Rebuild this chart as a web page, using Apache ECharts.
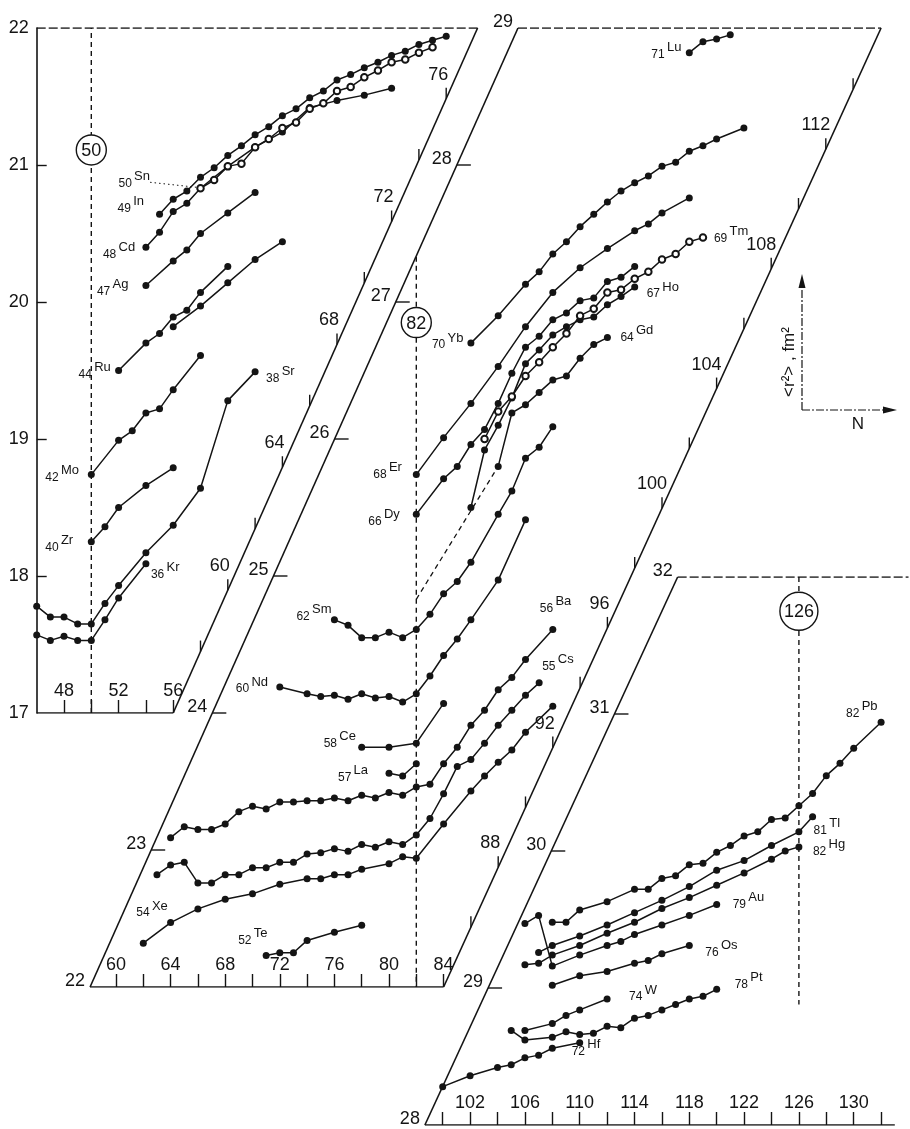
<!DOCTYPE html>
<html><head><meta charset="utf-8">
<script src="https://cdn.jsdelivr.net/npm/echarts@6/dist/echarts.min.js"></script>
<style>html,body{margin:0;padding:0;background:#fff}#c{width:910px;height:1129px}</style>
</head><body><div id="c"></div>
<script>
// ================= DATA (N, <r^2> in fm^2) =================
// Panel 1
const Kr = [[46,17.57],[47,17.53],[48,17.56],[49,17.53],[50,17.53],[51,17.68],[52,17.84],[54,18.09]];
const Sr = [[46,17.78],[47,17.70],[48,17.70],[49,17.65],[50,17.65],[51,17.80],[52,17.93],[54,18.17],[56,18.37],[58,18.64],[60,19.28],[62,19.49]];
const Zr = [[50,18.25],[51,18.36],[52,18.50],[54,18.66],[56,18.79]];
const Mo = [[50,18.74],[52,18.99],[53,19.06],[54,19.19],[55,19.22],[56,19.36],[58,19.61]];
const Ru = [[52,19.50],[54,19.70],[55,19.77],[56,19.89],[57,19.94],[58,20.07],[60,20.26]];
const Pd = [[56,19.82],[58,19.97],[60,20.14],[62,20.31],[64,20.44]];
const Ag = [[54,20.12],[56,20.30],[57,20.38],[58,20.50],[60,20.65],[62,20.80]];
const Cd = [[54,20.40],[55,20.51],[56,20.66],[57,20.72],[58,20.83],[60,20.99],[62,21.13],[64,21.24],[66,21.42],[68,21.47],[70,21.51],[72,21.56]];
const In = [[55,20.64],[56,20.75],[57,20.81],[58,20.91],[59,20.98],[60,21.07],[61,21.14],[62,21.22],[63,21.28],[64,21.36],[65,21.41],[66,21.49],[67,21.54],[68,21.62],[69,21.66],[70,21.71],[71,21.75],[72,21.80],[73,21.83],[74,21.88],[75,21.91],[76,21.94]];
const Sn = [[58,20.83],[59,20.89],[60,20.99],[61,21.01],[62,21.13],[63,21.19],[64,21.27],[65,21.31],[66,21.41],[67,21.45],[68,21.54],[69,21.57],[70,21.64],[71,21.69],[72,21.75],[73,21.77],[74,21.82],[75,21.86]];
// Panel 2
const Te = [[71,22.23],[72,22.25],[73,22.25],[74,22.34],[76,22.40],[78,22.45]];
const Xe = [[62,22.32],[64,22.47],[66,22.57],[68,22.64],[70,22.68],[72,22.75],[74,22.79],[75,22.79],[76,22.82],[77,22.82],[78,22.86],[80,22.90],[81,22.95],[82,22.94],[84,23.19],[86,23.43],[87,23.54],[88,23.64],[89,23.73],[90,23.86],[92,24.05]];
const Cs = [[63,22.82],[64,22.89],[65,22.91],[66,22.76],[67,22.76],[68,22.82],[69,22.82],[70,22.87],[71,22.87],[72,22.91],[73,22.91],[74,22.97],[75,22.98],[76,23.01],[77,22.99],[78,23.04],[79,23.02],[80,23.06],[81,23.04],[82,23.11],[83,23.23],[84,23.41],[85,23.61],[86,23.66],[87,23.78],[88,23.91],[89,24.02],[90,24.13],[91,24.22]];
const Ba = [[64,23.09],[65,23.17],[66,23.15],[67,23.15],[68,23.19],[69,23.28],[70,23.32],[71,23.30],[72,23.35],[73,23.35],[74,23.36],[75,23.36],[76,23.38],[77,23.36],[78,23.40],[79,23.38],[80,23.42],[81,23.40],[82,23.46],[83,23.48],[84,23.63],[85,23.75],[86,23.91],[87,24.02],[88,24.17],[89,24.26],[90,24.39],[92,24.61]];
const La = [[80,23.56],[81,23.54],[82,23.63]];
const Ce = [[78,23.75],[80,23.75],[82,23.78],[84,24.07]];
const Nd = [[72,24.19],[74,24.14],[75,24.12],[76,24.13],[77,24.10],[78,24.14],[79,24.11],[80,24.12],[81,24.08],[82,24.14],[83,24.27],[84,24.42],[85,24.54],[86,24.68],[88,24.97],[90,25.41]];
const Sm = [[76,24.68],[77,24.64],[78,24.55],[79,24.55],[80,24.59],[81,24.55],[82,24.61],[83,24.72],[84,24.87],[85,24.96],[86,25.10],[88,25.45],[89,25.62],[90,25.86],[91,25.94],[92,26.09]];
const GdGap = [[82,24.83],[88,25.80]];
const Gd = [[88,25.80],[89,26.19],[90,26.25],[91,26.34],[92,26.43],[93,26.46],[94,26.59],[95,26.69],[96,26.74]];
const Dy = [[82,25.45],[84,25.71],[85,25.80],[86,25.96],[87,26.07],[88,26.26],[89,26.48],[90,26.67],[91,26.75],[92,26.87],[93,26.92],[94,27.01],[95,27.03],[96,27.15],[97,27.18],[98,27.26]];
const Ho = [[86,25.50],[87,25.92],[88,26.10],[89,26.30],[90,26.55],[91,26.65],[92,26.76],[93,26.82],[94,26.87],[95,26.89],[96,26.98],[97,27.04],[98,27.11]];
const Er = [[82,25.74],[84,26.01],[86,26.26],[88,26.53],[90,26.82],[92,27.07],[94,27.25],[96,27.39],[98,27.52],[99,27.57],[100,27.65],[102,27.76]];
const Tm = [[87,26.00],[88,26.20],[89,26.31],[90,26.46],[91,26.56],[92,26.67],[93,26.77],[94,26.90],[95,26.95],[96,27.07],[97,27.09],[98,27.17],[99,27.22],[100,27.31],[101,27.35],[102,27.44],[103,27.47]];
const Yb = [[86,26.70],[88,26.90],[90,27.13],[91,27.22],[92,27.35],[93,27.44],[94,27.55],[95,27.64],[96,27.73],[97,27.81],[98,27.87],[99,27.92],[100,27.99],[101,28.02],[102,28.10],[103,28.14],[104,28.19],[106,28.27]];
const Lu = [[102,28.82],[103,28.90],[104,28.92],[105,28.95]];
// Panel 3
const Hf = [[100,28.28],[102,28.36],[104,28.42],[105,28.44],[106,28.49],[107,28.51],[108,28.56],[110,28.60]];
const W  = [[106,28.69],[108,28.74],[109,28.80],[110,28.84],[112,28.92]];
const Pt = [[105,28.69],[106,28.62],[108,28.64],[109,28.68],[110,28.66],[111,28.67],[112,28.72],[113,28.71],[114,28.78],[115,28.80],[116,28.84],[117,28.88],[118,28.92],[119,28.94],[120,28.99]];
const Os = [[108,29.02],[110,29.09],[112,29.12],[114,29.18],[115,29.20],[116,29.25],[118,29.31]];
const Au = [[106,29.47],[107,29.53],[108,29.16],[110,29.24],[112,29.31],[113,29.34],[114,29.39],[116,29.46],[118,29.53],[120,29.61]];
const Hg = [[106,29.17],[107,29.18],[108,29.24],[110,29.31],[112,29.40],[114,29.48],[116,29.58],[118,29.66],[120,29.75],[122,29.84],[124,29.94],[125,30.00],[126,30.03]];
const Tl = [[107,29.26],[108,29.31],[110,29.38],[112,29.46],[114,29.55],[116,29.64],[118,29.74],[120,29.86],[122,29.93],[124,30.04],[126,30.14],[127,30.25]];
const Pb = [[108,29.48],[109,29.48],[110,29.57],[112,29.63],[114,29.72],[115,29.72],[116,29.80],[117,29.82],[118,29.90],[119,29.91],[120,29.99],[121,30.04],[122,30.11],[123,30.14],[124,30.23],[125,30.24],[126,30.33],[127,30.42],[128,30.55],[129,30.64],[130,30.75],[132,30.94]];

// ================= AXIS FRAMES / TICKS =================
const P1_BOTTOM = [[46,17],[56,17]], P1_TOP = [[46,22],[78.3,22]], P1_RIGHT = [[56,17],[78.3,22]];
const P2_BOTTOM = [[58.1,22],[84,22]], P2_LEFT = [[58.1,22],[89.45,29]], P2_TOP = [[89.45,29],[116.05,29]], P2_RIGHT = [[84,22],[116.05,29]];
const P3_BOTTOM = [[98.7,28],[133,28]], P3_LEFT = [[98.7,28],[117.15,32]], P3_TOP = [[117.15,32],[134,32]];
const P1_XTICKS = [48,50,52,54,56], P1_XLABELS = [48,52,56];
const P1_YTICKS = [18,19,20,21], P1_YLABELS = [17,18,19,20,21,22];
const P1_SLANT_TICKS = [58,60,62,64,66,68,70,72,74,76], P1_SLANT_LABELS = [60,64,68,72,76];
const P2_XTICKS = [60,62,64,66,68,70,72,74,76,78,80,82,84], P2_XLABELS = [60,64,68,72,76,80,84];
const P2_SLANT_TICKS = [86,88,90,92,94,96,98,100,102,104,106,108,110,112,114], P2_SLANT_LABELS = [88,92,96,100,104,108,112];
const P2_RTICKS = [23,24,25,26,27,28], P2_RLABELS = [22,23,24,25,26,27,28,29];
const P3_XTICKS = [100,102,104,106,108,110,112,114,116,118,120,122,124,126,128,130,132], P3_XLABELS = [102,106,110,114,118,122,126,130];
const P3_RTICKS = [29,30,31], P3_RLABELS = [28,29,30,31,32];
const MAGIC = [[0,50,21.11,'50'],[1,82,26.85,'82'],[2,126,31.75,'126']];
const MAGIC_LINES = [[0,[[50,17],[50,22]]],[1,[[82,27.33],[82,22]]],[2,[[126,32],[126,28.88]]]];

// ================= STYLE =================
const INK = '#141414';
const FONT = '"Liberation Sans", Arial, sans-serif';
const GRIDS = [
  {left:36.7, top:28, width:464.1, height:685},
  {left:88.7, top:28, width:819, height:959},
  {left:415.3, top:577, width:493.2, height:548}
];
const RANGES = [[46,80,17,22],[58,118,22,29],[98,134,28,32]];
// element labels: [panel, data, anchor, Z, symbol, dx(px), dy(px), leader]
const LABELS = [
  [0,Sn,'first','50','Sn',-82,-5,true],[0,In,'first','49','In',-42,-6],[0,Cd,'first','48','Cd',-43,7],
  [0,Ag,'first','47','Ag',-49,6],[0,Ru,'first','44','Ru',-40,4],[0,Mo,'first','42','Mo',-46,3],
  [0,Zr,'first','40','Zr',-46,6],[0,Kr,'last','36','Kr',5,11],[0,Sr,'last','38','Sr',11,7],
  [1,Sm,'first','62','Sm',-38,-3],[1,Nd,'first','60','Nd',-44,2],[1,Ce,'first','58','Ce',-38,-4],
  [1,La,'first','57','La',-51,4],[1,Xe,'first','54','Xe',-7,-30],[1,Te,'first','52','Te',-28,-15],
  [1,Ba,'last','56','Ba',-13,-21],[1,Cs,'last','55','Cs',3,-16],[1,Er,'first','68','Er',-43,0],
  [1,Yb,'first','70','Yb',-39,2],[1,Dy,'first','66','Dy',-48,7],[1,Gd,'last','64','Gd',13,0],
  [1,Ho,'last','67','Ho',12,7],[1,Tm,'last','69','Tm',11,1],[1,Lu,'first','71','Lu',-38,2],
  [2,Hf,'last','72','Hf',-8,9],[2,W,'last','74','W',22,-2],[2,Os,'last','76','Os',16,7],
  [2,Pt,'last','78','Pt',18,-5],[2,Au,'last','79','Au',16,0],[2,Tl,'last','81','Tl',1,14],
  [2,Hg,'last','82','Hg',14,5],[2,Pb,'last','82','Pb',-35,-9]
];
const CHAINS = [
  [0,Kr],[0,Sr],[0,Zr],[0,Mo],[0,Ru],[0,Pd],[0,Ag],[0,Cd],[0,In],[0,Sn,true],
  [1,Te],[1,Xe],[1,Cs],[1,Ba],[1,La],[1,Ce],[1,Nd],[1,Sm],[1,Gd],[1,Dy],[1,Ho],[1,Er],[1,Tm,true],[1,Yb],[1,Lu],
  [2,Hf],[2,W],[2,Pt],[2,Os],[2,Au],[2,Hg],[2,Tl],[2,Pb]
];

// ================= BUILD =================
function edgeAtX(e, n){ return e[0][1] + (n - e[0][0]) * (e[1][1] - e[0][1]) / (e[1][0] - e[0][0]); }
function edgeAtY(e, r){ return e[0][0] + (r - e[0][1]) * (e[1][0] - e[0][0]) / (e[1][1] - e[0][1]); }
const txt = (s, x, y, size, align, va) => ({type:'text', style:{text:s, x, y, fill:INK, fontSize:size, fontFamily:FONT, align:align||'center', verticalAlign:va||'middle'}});
const series = [];
function addLine(g, data, dash, w){
  series.push({type:'line', xAxisIndex:g, yAxisIndex:g, data, symbol:'none', silent:true, animation:false, z:2,
    lineStyle:{color:INK, width:w||1.6, type: dash || 'solid'}});
}
[[0,P1_BOTTOM],[0,P1_RIGHT],[1,P2_BOTTOM],[1,P2_LEFT],[1,P2_RIGHT],[2,P3_BOTTOM],[2,P3_LEFT]].forEach(a=>addLine(a[0],a[1]));
[[0,P1_TOP],[1,P2_TOP],[2,P3_TOP]].forEach(a=>addLine(a[0],a[1],[9,3],1.3));
MAGIC_LINES.forEach(a=>addLine(a[0],a[1],[5,4],1.4));
addLine(1, GdGap, [5,4], 1.3);

CHAINS.forEach(([g,d,open])=>{
  series.push({type:'line', xAxisIndex:g, yAxisIndex:g, data:d, silent:true, animation:false, z:4,
    symbol: open ? 'emptyCircle' : 'circle', symbolSize: open ? 6.5 : 7,
    lineStyle:{color:INK, width:1.5}, itemStyle:{color:INK, borderColor:INK, borderWidth: open ? 1.3 : 0}});
});

function slantN(g, edge, ticks, labels){
  series.push({type:'custom', xAxisIndex:g, yAxisIndex:g, silent:true, animation:false, z:5,
    data: ticks.map(n=>[n, edgeAtX(edge,n), labels.indexOf(n)>=0 ? 1 : 0]),
    renderItem(p, api){
      const n = api.value(0), c = api.coord([n, api.value(1)]);
      const ch = [{type:'line', shape:{x1:c[0],y1:c[1],x2:c[0],y2:c[1]-11}, style:{stroke:INK, lineWidth:1.4}}];
      if (api.value(2)) ch.push(txt(String(n), c[0]-(n>=100?10:8), c[1]-24, 18));
      return {type:'group', children:ch};
    }});
}
slantN(0, P1_RIGHT, P1_SLANT_TICKS, P1_SLANT_LABELS);
slantN(1, P2_RIGHT, P2_SLANT_TICKS, P2_SLANT_LABELS);
function slantR(g, edge, ticks, labels){
  series.push({type:'custom', xAxisIndex:g, yAxisIndex:g, silent:true, animation:false, z:5,
    data: labels.map(r=>[edgeAtY(edge,r), r, ticks.indexOf(r)>=0 ? 1 : 0]),
    renderItem(p, api){
      const c = api.coord([api.value(0), api.value(1)]);
      const ch = [txt(String(api.value(1)), c[0]-5, c[1]-6, 18, 'right')];
      if (api.value(2)) ch.push({type:'line', shape:{x1:c[0],y1:c[1],x2:c[0]+14,y2:c[1]}, style:{stroke:INK, lineWidth:1.4}});
      return {type:'group', children:ch};
    }});
}
slantR(1, P2_LEFT, P2_RTICKS, P2_RLABELS);
slantR(2, P3_LEFT, P3_RTICKS, P3_RLABELS);

MAGIC.forEach(([g,n,r,s])=>{
  series.push({type:'custom', xAxisIndex:g, yAxisIndex:g, silent:true, animation:false, z:6, data:[[n,r]],
    renderItem(p, api){
      const c = api.coord([api.value(0), api.value(1)]);
      const rad = s.length>2 ? 19 : 15;
      return {type:'group', children:[
        {type:'circle', shape:{cx:c[0], cy:c[1], r:rad}, style:{fill:'#fff', stroke:INK, lineWidth:1.4}},
        txt(s, c[0], c[1]+1, 18)]};
    }});
});

LABELS.forEach(([g,d,anc,z,sym,dx,dy,leader])=>{
  const pt = anc==='first' ? d[0] : d[d.length-1];
  series.push({type:'custom', xAxisIndex:g, yAxisIndex:g, silent:true, animation:false, z:7, data:[pt],
    renderItem(p, api){
      const c = api.coord([api.value(0), api.value(1)]);
      const x = c[0]+dx, y = c[1]+dy, nw = z.length*6.8;
      const ch = [txt(z, x, y, 12, 'left'), txt(sym, x+nw+2, y-7, 13, 'left')];
      if (leader) ch.push({type:'line', shape:{x1:x+nw+2+sym.length*8, y1:y-1, x2:c[0]-4, y2:c[1]-1},
        style:{stroke:INK, lineWidth:1, lineDash:[1.5,3]}});
      return {type:'group', children:ch};
    }});
});

const xAxis = [], yAxis = [], grid = [];
const XT = [P1_XTICKS, P2_XTICKS, P3_XTICKS], XL = [P1_XLABELS, P2_XLABELS, P3_XLABELS];
GRIDS.forEach((gd,i)=>{
  grid.push(Object.assign({containLabel:false}, gd));
  xAxis.push({type:'value', gridIndex:i, min:RANGES[i][0], max:RANGES[i][1],
    axisLine:{show:false}, splitLine:{show:false},
    axisTick:{show:true, inside:true, length:13, customValues:XT[i], lineStyle:{color:INK, width:1.4}},
    axisLabel:{show:true, inside:true, margin:13, customValues:XL[i], color:INK, fontSize:18, fontFamily:FONT}});
  yAxis.push(i===0 ? {type:'value', gridIndex:0, min:17, max:22,
      axisLine:{show:true, lineStyle:{color:INK, width:1.6}}, splitLine:{show:false},
      axisTick:{show:true, inside:true, length:10, customValues:P1_YTICKS, lineStyle:{color:INK, width:1.4}},
      axisLabel:{show:true, margin:8, customValues:P1_YLABELS, color:INK, fontSize:18, fontFamily:FONT, padding:[0,0,12,0]}}
    : {type:'value', gridIndex:i, min:RANGES[i][2], max:RANGES[i][3], show:false});
});

const chart = echarts.init(document.getElementById('c'), null, {renderer:'canvas'});
chart.setOption({
  animation:false, backgroundColor:'#fff', grid, xAxis, yAxis, series,
  graphic:[
    {type:'line', shape:{x1:802,y1:410,x2:802,y2:282}, style:{stroke:INK, lineWidth:1.2, lineDash:[8,2,2,2]}},
    {type:'polygon', shape:{points:[[802,274],[798.5,288],[805.5,288]]}, style:{fill:INK}},
    {type:'line', shape:{x1:802,y1:410,x2:888,y2:410}, style:{stroke:INK, lineWidth:1.2, lineDash:[8,2,2,2]}},
    {type:'polygon', shape:{points:[[897,410],[883,406.5],[883,413.5]]}, style:{fill:INK}},
    {type:'text', x:789, y:362, rotation:Math.PI/2, style:{text:'<r²> , fm²', fill:INK, fontSize:17, fontFamily:FONT, align:'center', verticalAlign:'middle'}},
    {type:'text', x:858, y:424, style:{text:'N', fill:INK, fontSize:17, fontFamily:FONT, align:'center', verticalAlign:'middle'}}
  ]
});
</script></body></html>
